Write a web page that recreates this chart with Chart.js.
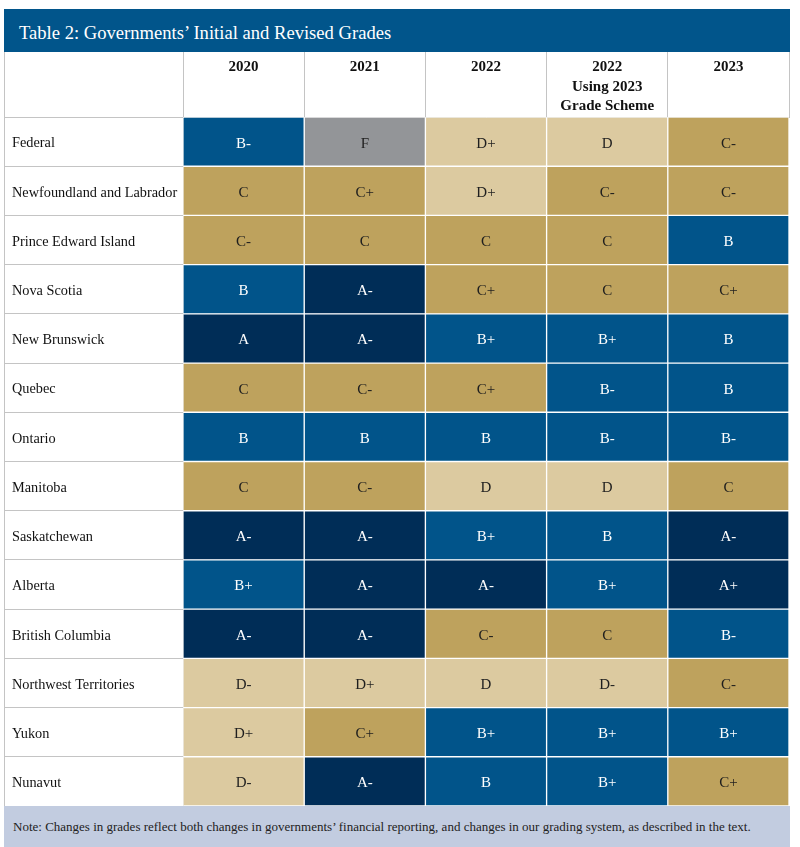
<!DOCTYPE html>
<html>
<head>
<meta charset="utf-8">
<script src="https://cdn.jsdelivr.net/npm/chart.js@4.4.1/dist/chart.umd.min.js"></script>
<style>
  body { margin: 0; background: #fff; font-family: "Liberation Serif", serif; }
  #title { position: absolute; left: 4px; top: 9px; width: 786px; height: 43px; box-sizing: border-box;
           padding-left: 15px; padding-top: 2px; background: #01558b; color: #fff; font-size: 18.6px; line-height: 43px; }
  #wrap { position: absolute; left: 4px; top: 52px; width: 786px; height: 754px; }
  #wrap::after { content: ''; position: absolute; left: 0; top: 0; bottom: 0; border-left: 1px solid #c4c4c4; }
  #note { position: absolute; left: 4px; top: 806px; width: 786px; height: 41px; box-sizing: border-box;
          padding-left: 9px; background: #c2cce0; color: #222; font-size: 13px; line-height: 41px; white-space: nowrap; }
</style>
</head>
<body>
<div id="title">Table 2: Governments’ Initial and Revised Grades</div>
<div id="wrap"><canvas id="gradeChart"></canvas></div>
<div id="note">Note: Changes in grades reflect both changes in governments’ financial reporting, and changes in our grading system, as described in the text.</div>
<script>
// Governments (rows) and grade columns
const governments = [
  'Federal', 'Newfoundland and Labrador', 'Prince Edward Island', 'Nova Scotia',
  'New Brunswick', 'Quebec', 'Ontario', 'Manitoba', 'Saskatchewan', 'Alberta',
  'British Columbia', 'Northwest Territories', 'Yukon', 'Nunavut'
];
const columnLabels = ['2020', '2021', '2022', ['2022', 'Using 2023', 'Grade Scheme'], '2023'];

const grades2020 = ['B-', 'C', 'C-', 'B', 'A', 'C', 'B', 'C', 'A-', 'B+', 'A-', 'D-', 'D+', 'D-'];
const grades2021 = ['F', 'C+', 'C', 'A-', 'A-', 'C-', 'B', 'C-', 'A-', 'A-', 'A-', 'D+', 'C+', 'A-'];
const grades2022 = ['D+', 'D+', 'C', 'C+', 'B+', 'C+', 'B', 'D', 'B+', 'A-', 'C-', 'D', 'B+', 'B'];
const grades2022New = ['D', 'C-', 'C', 'C', 'B+', 'B-', 'B-', 'D', 'B', 'B+', 'C', 'D-', 'B+', 'B+'];
const grades2023 = ['C-', 'C-', 'B', 'C+', 'B', 'B', 'B-', 'C', 'A-', 'A+', 'B-', 'C-', 'B+', 'C+'];

const gradeColumns = [grades2020, grades2021, grades2022, grades2022New, grades2023];

// Colour by letter grade
const letterColors = {
  A: '#002d57',
  B: '#01548a',
  C: '#bea25d',
  D: '#dccaa0',
  F: '#939598'
};
const lineColor = '#c4c4c4';
const serif = '"Liberation Serif", "Times New Roman", serif';

// Draw the grade text in the middle of each cell
const gradeLabels = {
  id: 'gradeLabels',
  afterDatasetsDraw(chart) {
    const ctx = chart.ctx;
    ctx.save();
    ctx.font = '15px ' + serif;
    ctx.textAlign = 'center';
    ctx.textBaseline = 'middle';
    chart.data.datasets.forEach((ds, i) => {
      chart.getDatasetMeta(i).data.forEach((bar, j) => {
        const grade = ds.grades[j];
        const p = bar.getCenterPoint();
        ctx.fillStyle = (grade[0] === 'A' || grade[0] === 'B') ? '#ffffff' : '#1e1e1e';
        ctx.fillText(grade, p.x, p.y + 2);
      });
    });
    ctx.restore();
  }
};

const ctx = document.getElementById('gradeChart').getContext('2d');

const gradeChart = new Chart(ctx, {
  type: 'bar',
  data: {
    labels: governments,
    datasets: gradeColumns.map((col, i) => ({
      label: String(columnLabels[i]),
      data: col.map(() => [i, i + 1]),
      grades: col,
      backgroundColor: col.map(g => letterColors[g[0]]),
      borderColor: 'rgba(255, 255, 255, 0.75)',
      borderWidth: 1,
      borderSkipped: false,
      barPercentage: 1,
      categoryPercentage: 1,
      grouped: false
    }))
  },
  options: {
    indexAxis: 'y',
    responsive: true,
    maintainAspectRatio: false,
    animation: false,
    layout: {
      padding: { left: 8, right: 1, top: 0, bottom: 0 }
    },
    plugins: {
      legend: { display: false },
      tooltip: { enabled: false }
    },
    scales: {
      x: {
        type: 'linear',
        position: 'top',
        min: 0,
        max: 5,
        afterBuildTicks: scale => {
          scale.ticks = columnLabels.map((c, i) => ({ value: i + 0.5 }));
        },
        afterFit: scale => {
          scale.height = 65;
          scale.paddingLeft = 0;
          scale.paddingRight = 0;
        },
        grid: {
          offset: true,
          drawOnChartArea: false,
          tickLength: 65,
          color: lineColor
        },
        border: { color: lineColor },
        ticks: {
          autoSkip: false,
          maxRotation: 0,
          crossAlign: 'far',
          padding: -64,
          color: '#111111',
          font: { family: serif, size: 15, weight: 'bold', lineHeight: 1.3 },
          callback: (value, index) => columnLabels[index]
        }
      },
      y: {
        type: 'category',
        position: 'left',
        offset: true,
        afterFit: scale => {
          scale.width = 171;
          scale.paddingTop = 0;
          scale.paddingBottom = 0;
        },
        grid: {
          offset: true,
          drawOnChartArea: false,
          tickLength: 179,
          color: lineColor
        },
        border: { color: lineColor },
        ticks: {
          autoSkip: false,
          crossAlign: 'far',
          labelOffset: 2,
          color: '#111111',
          font: { family: serif, size: 14.3 }
        }
      }
    }
  },
  plugins: [gradeLabels]
});
</script>
</body>
</html>
